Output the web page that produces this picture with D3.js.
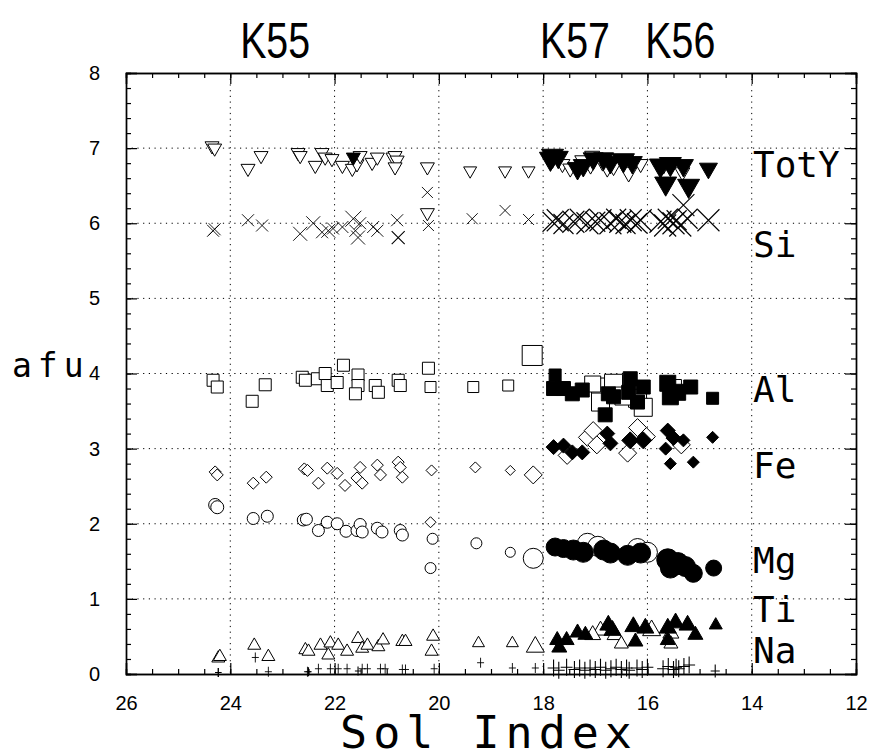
<!DOCTYPE html>
<html lang="en">
<head>
  <meta charset="UTF-8">
  <title>afu vs Sol Index</title>
  <style>
    body { margin: 0; background: #fff; }
    svg { display: block; }
    .tick text { font-family: "Liberation Sans", Arial, sans-serif; font-size: 20px; fill: #000; }
    .mono { font-family: "DejaVu Sans Mono", "Liberation Mono", monospace; fill: #000; }
    .site { font-family: "Liberation Sans", Arial, sans-serif; fill: #000; }
  </style>
</head>
<body>
  <div id="chart"></div>

  <script src="https://d3js.org/d3.v7.min.js"></script>
  <script>
    // points are [sol index, afu, marker width]
    const totYOpen = [
      [24.35, 7.03, 14], [24.3, 7.0, 14], [23.66, 6.73, 14], [23.41, 6.90, 14],
      [22.70, 6.94, 14], [22.66, 6.90, 14], [22.37, 6.77, 14], [22.24, 6.94, 14],
      [22.18, 6.88, 14], [22.05, 6.86, 14], [21.85, 6.77, 14], [21.66, 6.73, 14],
      [21.57, 6.79, 14], [21.51, 6.90, 14], [21.28, 6.81, 14], [21.18, 6.88, 14],
      [20.88, 6.88, 14], [20.84, 6.90, 14], [20.80, 6.84, 14], [20.84, 6.75, 14],
      [20.22, 6.75, 14], [20.22, 6.14, 14], [19.40, 6.70, 13], [18.73, 6.70, 13],
      [18.28, 6.70, 13],
      [17.63, 6.79, 15], [17.48, 6.73, 15], [17.25, 6.84, 15], [17.06, 6.90, 15],
      [17.09, 6.77, 15], [16.86, 6.81, 15], [16.77, 6.73, 15], [16.65, 6.75, 15],
      [16.36, 6.68, 17], [16.29, 6.81, 15], [16.13, 6.79, 15], [15.69, 6.77, 15],
      [15.33, 6.68, 15]
    ];
    const totYFilled = [
      [21.64, 6.88, 14],
      [17.86, 6.86, 22], [17.82, 6.90, 22], [17.71, 6.88, 20], [17.34, 6.73, 20],
      [17.23, 6.77, 20], [17.04, 6.86, 20], [16.84, 6.86, 20], [16.71, 6.81, 20],
      [16.46, 6.84, 22], [16.29, 6.81, 20], [15.75, 6.77, 22], [15.56, 6.79, 22],
      [15.31, 6.77, 20], [15.65, 6.53, 22], [15.21, 6.50, 22], [14.83, 6.73, 18]
    ];
    const siOpen = [
      [24.33, 5.90, 12], [24.30, 5.92, 12], [23.66, 6.04, 12], [23.39, 5.97, 12],
      [22.66, 5.86, 14], [22.41, 6.00, 14], [22.24, 5.88, 12], [22.12, 5.90, 14],
      [22.03, 5.93, 12], [21.85, 5.95, 12], [21.64, 6.06, 16], [21.60, 5.90, 12],
      [21.51, 6.00, 12], [21.55, 5.81, 14], [21.26, 5.95, 12], [21.18, 5.90, 12],
      [20.80, 6.04, 12], [20.22, 6.41, 11], [20.20, 5.97, 11], [19.36, 6.06, 11],
      [18.73, 6.17, 11], [18.28, 6.05, 11]
    ];
    const siFilled = [
      [20.78, 5.81, 13],
      [17.82, 6.02, 20], [17.72, 6.04, 22], [17.61, 5.99, 20], [17.42, 6.02, 22],
      [17.30, 6.06, 20], [17.15, 6.00, 22], [17.00, 6.02, 20], [16.90, 6.04, 22],
      [16.71, 6.00, 22], [16.60, 6.06, 20], [16.52, 6.02, 22], [16.42, 5.99, 20],
      [16.32, 6.04, 22], [16.20, 6.00, 20], [16.13, 6.04, 22], [15.75, 6.02, 22],
      [15.66, 5.97, 22], [15.61, 6.06, 20], [15.50, 6.00, 22], [15.44, 6.04, 20],
      [15.37, 5.97, 22], [15.31, 6.24, 22], [15.23, 6.06, 20], [14.83, 6.04, 22]
    ];
    const alOpen = [
      [24.33, 3.91, 12], [24.25, 3.82, 12], [23.58, 3.63, 12], [23.33, 3.85, 12],
      [22.62, 3.95, 12], [22.56, 3.91, 12], [22.33, 3.93, 12], [22.18, 4.00, 12],
      [22.14, 3.84, 12], [21.95, 3.88, 12], [21.83, 4.11, 12], [21.55, 3.98, 12],
      [21.55, 3.84, 12], [21.60, 3.73, 12], [21.22, 3.84, 12], [21.16, 3.75, 12],
      [20.78, 3.91, 12], [20.74, 3.84, 12], [20.20, 4.07, 12], [20.16, 3.82, 11],
      [19.34, 3.82, 11], [18.67, 3.84, 11], [18.21, 4.24, 20],
      [16.90, 3.82, 18], [16.90, 3.62, 18], [16.65, 3.87, 18], [17.05, 3.86, 16],
      [16.19, 3.67, 18], [16.08, 3.55, 18], [16.45, 3.70, 18], [15.52, 3.80, 18]
    ];
    const alFilled = [
      [17.77, 3.98, 12], [17.80, 3.80, 14], [17.61, 3.80, 14], [17.44, 3.73, 14],
      [17.25, 3.78, 14], [16.75, 3.73, 14], [16.81, 3.45, 14], [16.65, 3.69, 14],
      [16.33, 3.93, 14], [16.36, 3.75, 14], [16.08, 3.82, 14], [16.19, 3.62, 14],
      [15.61, 3.87, 16], [15.56, 3.69, 16], [15.42, 3.75, 16], [15.17, 3.82, 14],
      [14.75, 3.67, 12]
    ];
    const feOpen = [
      [24.29, 2.69, 12], [24.25, 2.65, 12], [23.56, 2.54, 12], [23.31, 2.62, 12],
      [22.58, 2.73, 12], [22.52, 2.71, 12], [22.31, 2.54, 12], [22.14, 2.74, 12],
      [21.95, 2.67, 12], [21.80, 2.51, 12], [21.57, 2.61, 12], [21.51, 2.75, 12],
      [21.47, 2.54, 12], [21.18, 2.78, 12], [21.12, 2.65, 12], [20.78, 2.82, 12],
      [20.74, 2.75, 12], [20.70, 2.62, 12], [20.14, 2.71, 11], [20.16, 2.02, 11],
      [19.30, 2.75, 11], [18.63, 2.71, 10], [18.19, 2.65, 18],
      [17.54, 2.91, 18], [17.15, 3.15, 18], [17.04, 3.24, 18], [16.97, 3.05, 18],
      [16.19, 3.28, 18], [16.02, 3.16, 18], [16.38, 2.94, 18], [15.35, 3.05, 18]
    ];
    const feFilled = [
      [17.80, 3.02, 15], [17.61, 3.04, 15], [17.44, 2.95, 15], [17.25, 2.95, 15],
      [16.77, 3.20, 15], [16.71, 3.07, 15], [16.33, 3.11, 17], [16.08, 3.11, 17],
      [15.61, 3.24, 15], [15.50, 3.14, 15], [15.65, 3.00, 13], [15.31, 3.11, 13],
      [15.56, 2.80, 12], [15.12, 2.82, 12], [14.75, 3.15, 12]
    ];
    const mgOpen = [
      [24.29, 2.25, 13], [24.25, 2.22, 13], [23.56, 2.07, 12], [23.29, 2.10, 12],
      [22.60, 2.05, 12], [22.54, 2.06, 12], [22.31, 1.91, 12], [22.14, 2.02, 12],
      [21.95, 2.00, 12], [21.78, 1.90, 12], [21.57, 1.91, 12], [21.51, 1.99, 12],
      [21.47, 1.89, 12], [21.18, 1.94, 12], [21.09, 1.89, 12], [20.74, 1.91, 12],
      [20.70, 1.85, 12], [20.12, 1.80, 11], [20.16, 1.41, 11], [19.28, 1.74, 11],
      [18.63, 1.62, 10], [18.19, 1.54, 20],
      [17.15, 1.74, 20], [16.95, 1.70, 20], [16.19, 1.67, 20], [16.00, 1.62, 20]
    ];
    const mgFilled = [
      [17.77, 1.69, 18], [17.61, 1.67, 18], [17.42, 1.65, 20], [17.23, 1.62, 20],
      [16.84, 1.65, 20], [16.71, 1.61, 20], [16.38, 1.58, 20], [16.13, 1.61, 20],
      [15.61, 1.52, 22], [15.42, 1.47, 22], [15.27, 1.43, 20], [15.12, 1.34, 18],
      [15.56, 1.41, 20], [14.73, 1.41, 16]
    ];
    const tiOpen = [
      [24.23, 0.21, 13], [24.20, 0.23, 13], [23.54, 0.38, 13], [23.27, 0.23, 13],
      [22.56, 0.32, 13], [22.50, 0.30, 13], [22.27, 0.38, 13], [22.12, 0.25, 13],
      [22.08, 0.41, 13], [21.93, 0.38, 13], [21.76, 0.30, 13], [21.55, 0.47, 13],
      [21.47, 0.34, 13], [21.37, 0.38, 13], [21.16, 0.36, 13], [21.07, 0.45, 13],
      [20.70, 0.43, 13], [20.64, 0.43, 13], [20.11, 0.50, 13], [20.14, 0.30, 13],
      [19.24, 0.41, 12], [18.59, 0.41, 12], [18.15, 0.36, 18],
      [16.90, 0.58, 16], [17.05, 0.52, 16], [16.62, 0.52, 16], [15.92, 0.58, 18],
      [15.55, 0.54, 16], [16.50, 0.40, 14], [15.55, 0.40, 14]
    ];
    const tiFilled = [
      [17.73, 0.45, 15], [17.69, 0.35, 15], [17.55, 0.45, 15], [17.34, 0.55, 15],
      [17.19, 0.52, 15], [16.75, 0.65, 17], [16.67, 0.58, 17], [16.27, 0.63, 17],
      [16.23, 0.43, 15], [16.04, 0.61, 17], [15.61, 0.61, 17], [15.46, 0.68, 17],
      [15.23, 0.65, 17], [15.08, 0.52, 15], [15.61, 0.45, 15], [14.69, 0.65, 13]
    ];
    const naOpen = [
      [24.23, 0.02, 9], [23.52, 0.22, 10], [23.27, 0.03, 10], [22.52, 0.03, 10],
      [22.31, 0.07, 10], [22.08, 0.07, 10], [21.93, 0.07, 10], [21.76, 0.07, 10],
      [21.47, 0.07, 10], [21.37, 0.07, 10], [21.12, 0.07, 10], [21.03, 0.07, 10],
      [20.70, 0.06, 10], [20.64, 0.06, 10], [20.09, 0.07, 10], [19.20, 0.15, 10],
      [18.59, 0.08, 10], [18.15, 0.08, 10]
    ];
    const naFilled = [
      [24.23, 0.02, 9], [22.50, 0.03, 9], [21.55, 0.04, 9],
      [17.80, 0.08, 17], [17.70, 0.05, 17], [17.55, 0.09, 17], [17.40, 0.06, 17],
      [17.30, 0.08, 17], [17.20, 0.05, 17], [17.10, 0.08, 17], [17.00, 0.06, 17],
      [16.90, 0.09, 17], [16.80, 0.05, 17], [16.70, 0.07, 17], [16.60, 0.09, 17],
      [16.50, 0.06, 17], [16.40, 0.08, 17], [16.35, 0.05, 17], [16.20, 0.08, 17],
      [16.10, 0.06, 17], [16.00, 0.09, 17], [15.70, 0.07, 17], [15.60, 0.10, 17],
      [15.50, 0.06, 17], [15.45, 0.09, 17], [15.40, 0.07, 17], [15.30, 0.10, 17],
      [15.20, 0.12, 17], [14.70, 0.04, 13]
    ];

    const xTicks = [26, 24, 22, 20, 18, 16, 14, 12];
    const yTicks = [0, 1, 2, 3, 4, 5, 6, 7, 8];
    const seriesLabels = [
      { name: "TotY", v: 6.62 }, { name: "Si", v: 5.55 }, { name: "Al", v: 3.62 },
      { name: "Fe", v: 2.61 }, { name: "Mg", v: 1.35 }, { name: "Ti", v: 0.69 },
      { name: "Na", v: 0.15 }
    ];
    const siteLabels = [
      { name: "K55", v: 23.14 }, { name: "K57", v: 17.39 }, { name: "K56", v: 15.37 }
    ];

    const W = 872, H = 756;
    const mLeft = 126, mRight = 856, mTop = 73, mBottom = 674;

    const svg = d3.select("#chart").append("svg")
      .attr("width", W).attr("height", H);

    const x = d3.scaleLinear().domain([26, 12]).range([mLeft, mRight]);
    const y = d3.scaleLinear().domain([0, 8]).range([mBottom, mTop]);

    // dotted grid at the major ticks
    const grid = svg.append("g")
      .attr("stroke", "#000").attr("stroke-width", 1).attr("stroke-dasharray", "1.2,4.5");
    grid.selectAll(".gx").data(xTicks.slice(1, -1)).join("line")
      .attr("x1", d => x(d)).attr("x2", d => x(d)).attr("y1", mTop).attr("y2", mBottom);
    grid.selectAll(".gy").data(yTicks.slice(1, -1)).join("line")
      .attr("x1", mLeft).attr("x2", mRight).attr("y1", d => y(d)).attr("y2", d => y(d));

    // axes, ticks pointing inward on all four sides
    const minorX = d3.range(26, 11.9, -0.5);
    const minorY = d3.range(0, 8.01, 0.2);

    svg.append("g").attr("transform", `translate(0,${mBottom})`)
      .call(d3.axisBottom(x).tickValues(xTicks).tickSize(-11).tickPadding(22).tickFormat(d3.format("d")));
    svg.append("g").attr("transform", `translate(0,${mBottom})`)
      .call(d3.axisBottom(x).tickValues(minorX).tickSize(-5).tickFormat(""));
    svg.append("g").attr("transform", `translate(0,${mTop})`)
      .call(d3.axisTop(x).tickValues(xTicks).tickSize(-11).tickFormat(""));
    svg.append("g").attr("transform", `translate(0,${mTop})`)
      .call(d3.axisTop(x).tickValues(minorX).tickSize(-5).tickFormat(""));
    svg.append("g").attr("transform", `translate(${mLeft},0)`)
      .call(d3.axisLeft(y).tickValues(yTicks).tickSize(-11).tickPadding(26).tickFormat(d3.format("d")));
    svg.append("g").attr("transform", `translate(${mLeft},0)`)
      .call(d3.axisLeft(y).tickValues(minorY).tickSize(-5).tickFormat(""));
    svg.append("g").attr("transform", `translate(${mRight},0)`)
      .call(d3.axisRight(y).tickValues(yTicks).tickSize(-11).tickFormat(""));
    svg.append("g").attr("transform", `translate(${mRight},0)`)
      .call(d3.axisRight(y).tickValues(minorY).tickSize(-5).tickFormat(""));

    svg.selectAll(".domain").attr("stroke", "#000").attr("stroke-width", 1.4);
    svg.selectAll(".tick line").attr("stroke", "#000").attr("stroke-width", 1.2);

    // marker shapes, size = marker width in px
    const shapes = {
      down: { draw(c, s) { const h = s * 0.87; c.moveTo(-s / 2, -h / 3); c.lineTo(s / 2, -h / 3); c.lineTo(0, 2 * h / 3); c.closePath(); } },
      up: { draw(c, s) { const h = s * 0.87; c.moveTo(-s / 2, h / 3); c.lineTo(s / 2, h / 3); c.lineTo(0, -2 * h / 3); c.closePath(); } },
      square: { draw(c, s) { c.rect(-s / 2, -s / 2, s, s); } },
      diamond: { draw(c, s) { const r = s / 2; c.moveTo(0, -r); c.lineTo(r, 0); c.lineTo(0, r); c.lineTo(-r, 0); c.closePath(); } },
      circle: { draw(c, s) { c.moveTo(s / 2, 0); c.arc(0, 0, s / 2, 0, 2 * Math.PI); } },
      cross: { draw(c, s) { const r = s / 2; c.moveTo(-r, -r); c.lineTo(r, r); c.moveTo(r, -r); c.lineTo(-r, r); } },
      plus: { draw(c, s) { const r = s / 2; c.moveTo(-r * 0.7, 0); c.lineTo(r * 0.7, 0); c.moveTo(0, -r); c.lineTo(0, r); } }
    };

    const plot = svg.append("g");
    function drawSeries(data, shape, filled) {
      const lineOnly = shape === "cross" || shape === "plus";
      plot.append("g").selectAll("path").data(data).join("path")
        .attr("transform", d => `translate(${x(d[0])},${y(d[1])})`)
        .attr("d", d => d3.symbol().type(shapes[shape]).size(d[2])())
        .attr("fill", lineOnly ? "none" : (filled ? "#000" : "#fff"))
        .attr("stroke", "#000")
        .attr("stroke-width", lineOnly ? (filled ? 1.1 : 0.9) : 1);
    }

    drawSeries(totYOpen, "down", false);
    drawSeries(totYFilled, "down", true);
    drawSeries(siOpen, "cross", false);
    drawSeries(siFilled, "cross", true);
    drawSeries(alOpen, "square", false);
    drawSeries(alFilled, "square", true);
    drawSeries(feOpen, "diamond", false);
    drawSeries(feFilled, "diamond", true);
    drawSeries(mgOpen, "circle", false);
    drawSeries(mgFilled, "circle", true);
    drawSeries(tiOpen, "up", false);
    drawSeries(tiFilled, "up", true);
    drawSeries(naOpen, "plus", false);
    drawSeries(naFilled, "plus", true);

    // series names on the right
    svg.append("g").selectAll("text").data(seriesLabels).join("text")
      .attr("class", "mono")
      .attr("x", 753)
      .attr("y", d => y(d.v))
      .attr("font-size", 36)
      .text(d => d.name);

    // site names above the frame, a tall condensed face
    svg.append("g").selectAll("text").data(siteLabels).join("text")
      .attr("class", "site")
      .attr("x", d => x(d.v) - 35)
      .attr("y", 58)
      .attr("font-size", 50)
      .attr("textLength", 70)
      .attr("lengthAdjust", "spacingAndGlyphs")
      .text(d => d.name);

    svg.append("text").attr("class", "mono")
      .attr("x", 12).attr("y", 377)
      .attr("font-size", 33).attr("letter-spacing", 6)
      .text("afu");

    svg.append("text").attr("class", "mono")
      .attr("x", 489).attr("y", 748)
      .attr("text-anchor", "middle")
      .attr("font-size", 45).attr("letter-spacing", 6)
      .text("Sol Index");
  </script>
</body>
</html>
